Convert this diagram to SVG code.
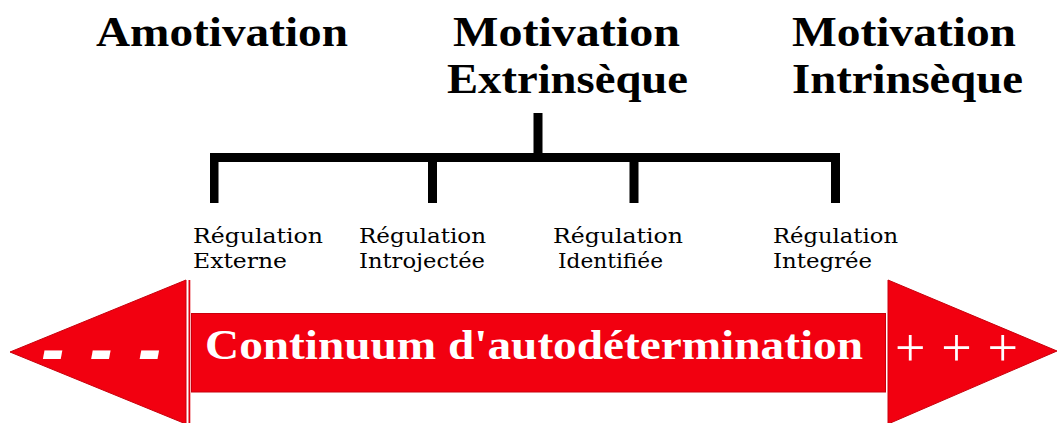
<svg xmlns="http://www.w3.org/2000/svg" width="1057" height="423" viewBox="0 0 1057 423">
<style>
.head{font-family:"Liberation Serif","Times New Roman",serif;font-weight:bold;font-size:42px;fill:#000}
.lab{font-family:"DejaVu Serif","Liberation Serif",serif;font-size:21px;fill:#000}
.bar{fill:#000}
.red{fill:#f20010;stroke:#c8000c;stroke-width:1}
.main{font-family:"Liberation Serif","Times New Roman",serif;font-weight:bold;font-size:43px;fill:#fff}
.sign{fill:#fff}
</style>
<rect width="1057" height="423" fill="#fff"/>
<g id="amotivation">
<text class="head" x="96" y="46" textLength="252" lengthAdjust="spacingAndGlyphs">Amotivation</text>
</g>
<g id="motivation-extrinseque">
<text class="head" x="453" y="46" textLength="227" lengthAdjust="spacingAndGlyphs">Motivation</text>
<text class="head" x="447" y="93" textLength="241" lengthAdjust="spacingAndGlyphs">Extrinsèque</text>
</g>
<g id="motivation-intrinseque">
<text class="head" x="792" y="46" textLength="224" lengthAdjust="spacingAndGlyphs">Motivation</text>
<text class="head" x="792" y="93" textLength="231" lengthAdjust="spacingAndGlyphs">Intrinsèque</text>
</g>
<g id="connectors">
<rect class="bar" x="533.5" y="113" width="9" height="45"/>
<rect class="bar" x="210" y="153" width="630" height="9"/>
<rect class="bar" x="210" y="153" width="8.5" height="50"/>
<rect class="bar" x="428" y="153" width="9" height="50"/>
<rect class="bar" x="629.5" y="153" width="9" height="50"/>
<rect class="bar" x="831" y="153" width="9" height="50"/>
</g>
<g id="regulation-externe">
<text class="lab" x="193" y="243" textLength="130" lengthAdjust="spacingAndGlyphs">Régulation</text>
<text class="lab" x="193" y="268" textLength="94" lengthAdjust="spacingAndGlyphs">Externe</text>
</g>
<g id="regulation-introjectee">
<text class="lab" x="359" y="243" textLength="127" lengthAdjust="spacingAndGlyphs">Régulation</text>
<text class="lab" x="359" y="268" textLength="126" lengthAdjust="spacingAndGlyphs">Introjectée</text>
</g>
<g id="regulation-identifiee">
<text class="lab" x="553" y="243" textLength="130" lengthAdjust="spacingAndGlyphs">Régulation</text>
<text class="lab" x="558" y="268" textLength="105" lengthAdjust="spacingAndGlyphs">Identifiée</text>
</g>
<g id="regulation-integree">
<text class="lab" x="773" y="243" textLength="125" lengthAdjust="spacingAndGlyphs">Régulation</text>
<text class="lab" x="773" y="268" textLength="99" lengthAdjust="spacingAndGlyphs">Integrée</text>
</g>
<g id="continuum">
<polygon class="red" points="10,352 186,280 186,424"/>
<rect x="188.5" y="280" width="1.8" height="143" fill="#e0000e"/>
<rect class="red" x="191.5" y="313.5" width="694" height="78.5"/>
<polygon class="red" points="888,280 1057,351 888,424"/>
<text class="main" x="205" y="359" textLength="658" lengthAdjust="spacingAndGlyphs">Continuum d'autodétermination</text>
<text class="sign" x="41" y="373" font-family="Liberation Sans, Arial, sans-serif" font-weight="bold" font-style="italic" font-size="70" textLength="120" lengthAdjust="spacing">- - -</text>
<text class="sign" x="895" y="366" font-family="Liberation Serif, Times New Roman, serif" font-size="54" textLength="123" lengthAdjust="spacing">+ + +</text>
</g>
</svg>
